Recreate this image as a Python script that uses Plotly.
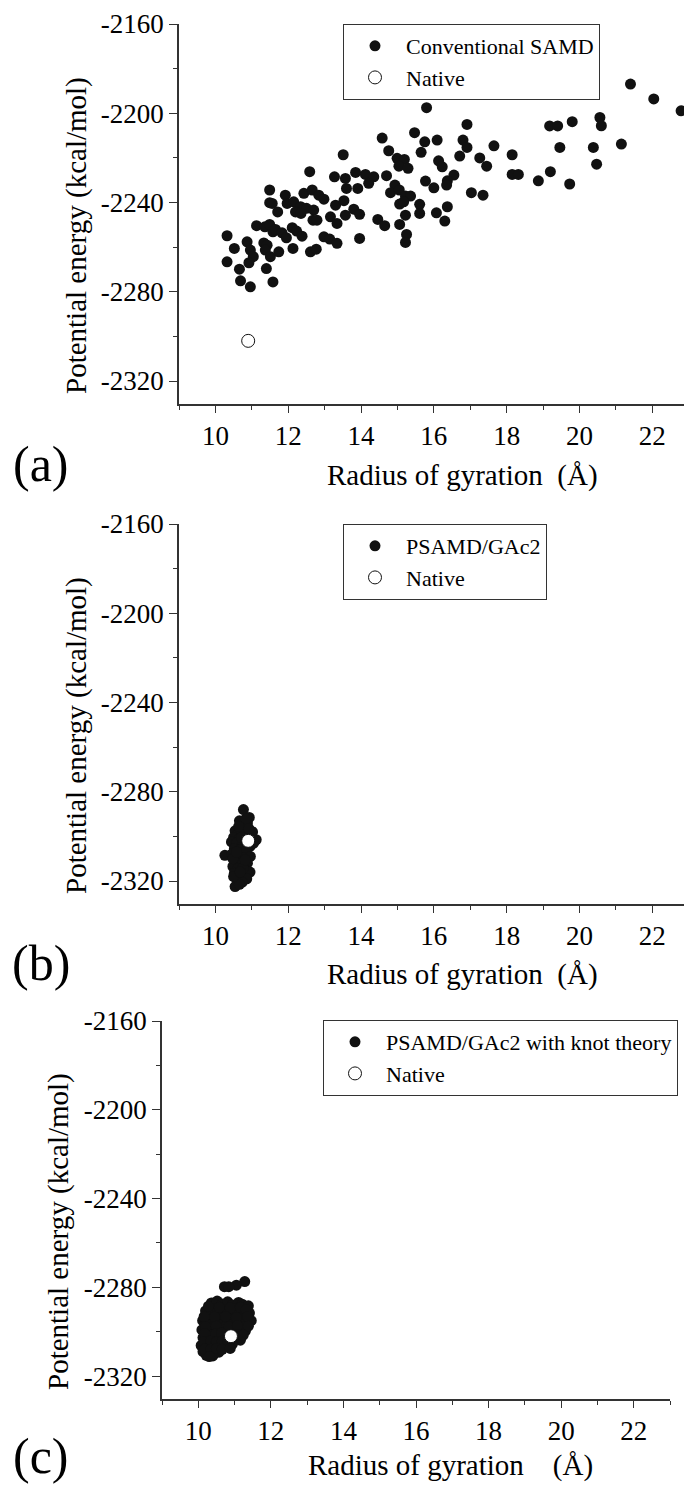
import plotly.graph_objects as go

# ---------------- data ----------------
# Panel (a): Conventional SAMD
a_rg = [21.40, 22.04, 22.79, 15.80, 16.91, 19.18, 19.40, 19.80, 20.56, 20.60,
        14.58, 15.47, 15.75, 16.09, 16.80, 16.91, 17.65, 19.46, 20.38, 21.15,
        14.76, 15.65, 16.71, 17.26, 18.15, 13.51, 14.99, 15.19, 15.04, 15.29,
        16.13, 16.23, 17.45, 20.47, 12.59, 13.27, 13.57, 13.85, 14.12, 14.35,
        14.70, 16.55, 16.37, 18.15, 18.32, 19.20, 18.87, 19.73, 15.77, 16.35,
        16.00, 13.60, 13.91, 14.21, 14.93, 14.81, 15.05, 15.22, 15.36, 17.03,
        17.35, 11.49, 11.92, 12.43, 12.66, 12.84, 12.98, 11.49, 11.56, 11.97,
        12.15, 12.34, 12.50, 12.70, 12.20, 12.35, 11.71, 13.30, 13.53, 13.80,
        13.96, 13.57, 13.16, 13.34, 12.68, 12.79, 15.06, 15.17, 15.61, 15.61,
        16.07, 16.37, 16.30, 15.22, 15.06, 14.46, 14.65, 15.25, 15.22, 13.96,
        11.13, 11.36, 11.49, 11.58, 11.65, 11.83, 11.95, 12.11, 12.23, 12.38,
        12.98, 13.14, 13.34, 10.32, 10.87, 10.52, 10.96, 11.04, 10.92, 10.32,
        10.66, 11.33, 11.42, 11.37, 11.51, 11.74, 12.13, 12.61, 12.77, 11.40,
        10.69, 10.96, 11.58]
a_pe = [-2186.9, -2193.6, -2198.9, -2197.5, -2205.0, -2205.7, -2205.7, -2203.8, -2201.9, -2205.6,
        -2211.1, -2208.7, -2212.8, -2212.0, -2212.0, -2215.3, -2214.6, -2215.3, -2215.3, -2213.8,
        -2216.8, -2217.5, -2219.2, -2220.0, -2218.6, -2218.6, -2220.2, -2220.7, -2223.7, -2224.7,
        -2221.3, -2224.0, -2223.7, -2222.8, -2226.2, -2228.5, -2229.2, -2226.5, -2227.4, -2228.5,
        -2228.0, -2227.7, -2230.3, -2227.4, -2227.4, -2226.2, -2230.3, -2231.7, -2230.4, -2232.2,
        -2233.4, -2233.7, -2233.7, -2231.4, -2232.2, -2235.6, -2234.4, -2237.1, -2237.1, -2235.6,
        -2236.7, -2234.4, -2236.7, -2235.9, -2234.4, -2236.7, -2238.5, -2240.1, -2240.4, -2240.4,
        -2239.7, -2241.9, -2242.6, -2243.4, -2244.2, -2244.9, -2244.2, -2241.2, -2239.2, -2243.0,
        -2245.3, -2245.7, -2246.4, -2249.4, -2247.9, -2247.9, -2240.7, -2239.7, -2240.8, -2244.9,
        -2244.6, -2241.9, -2248.3, -2245.7, -2249.8, -2247.6, -2250.4, -2254.3, -2257.9, -2256.1,
        -2250.4, -2250.9, -2249.8, -2253.1, -2252.1, -2253.6, -2255.8, -2251.3, -2252.8, -2255.1,
        -2255.4, -2256.4, -2258.3, -2254.9, -2257.6, -2260.6, -2261.3, -2264.3, -2267.0, -2266.6,
        -2269.9, -2258.1, -2259.1, -2261.3, -2264.3, -2262.1, -2260.6, -2262.1, -2260.9, -2269.6,
        -2275.1, -2277.8, -2275.6]

# Panel (b): PSAMD/GAc2
b_rg = [10.77, 10.93, 10.66, 10.88, 10.70, 10.54, 10.62, 10.80, 11.02, 10.50,
        10.66, 11.12, 10.44, 10.58, 10.75, 10.95, 11.05, 10.52, 10.68, 10.85,
        10.26, 10.45, 10.62, 10.78, 10.96, 10.55, 10.70, 10.88, 10.48, 10.62,
        10.80, 10.95, 10.52, 10.70, 10.86, 10.60, 10.74, 10.54, 10.66, 10.48,
        10.90, 10.72, 10.84, 10.58, 10.64, 10.92, 10.76, 10.50, 10.82, 10.68]
b_pe = [-2288.0, -2291.5, -2293.0, -2294.0, -2296.0, -2297.5, -2299.0, -2298.0, -2298.0, -2300.5,
        -2301.0, -2301.5, -2302.5, -2303.0, -2304.0, -2304.5, -2303.0, -2305.5, -2306.0, -2306.5,
        -2308.5, -2308.0, -2309.0, -2309.5, -2309.0, -2311.0, -2312.0, -2312.0, -2313.5, -2314.5,
        -2315.0, -2316.0, -2316.5, -2317.5, -2319.0, -2319.5, -2320.5, -2322.5, -2321.5, -2310.0,
        -2300.0, -2300.5, -2292.0, -2307.0, -2295.5, -2296.5, -2314.0, -2318.0, -2310.5, -2316.0]

# Panel (c): PSAMD/GAc2 with knot theory
c_rg = [11.28, 11.05, 10.72, 10.84, 10.36, 10.52, 10.66, 10.81, 10.94, 11.11,
        11.21, 11.38, 10.20, 10.34, 10.49, 10.64, 10.82, 10.97, 11.09, 11.26,
        11.41, 10.12, 10.29, 10.43, 10.57, 10.73, 10.87, 11.03, 11.17, 11.33,
        11.46, 10.10, 10.24, 10.41, 10.55, 10.71, 10.86, 11.01, 11.14, 11.30,
        10.13, 10.27, 10.44, 10.59, 10.74, 10.99, 11.16, 10.08, 10.23, 10.37,
        10.51, 10.66, 10.79, 10.94, 10.13, 10.29, 10.43, 10.57, 10.22, 10.40,
        10.18, 10.31, 10.47, 10.62, 10.77, 10.92, 11.06, 11.22, 10.35, 10.68,
        10.28, 10.58, 10.88, 11.16, 11.32, 10.16, 10.45, 10.75, 11.05, 11.36,
        10.20, 10.50, 10.84, 11.08, 11.38, 10.18, 10.48, 10.64, 11.08, 11.24,
        10.16, 10.34, 10.50, 10.66, 10.82, 10.18, 10.35, 10.50, 10.66, 10.88,
        10.30]
c_pe = [-2277.4, -2279.0, -2279.7, -2279.7, -2287.0, -2286.2, -2287.5, -2286.5, -2288.0, -2286.8,
        -2287.6, -2288.3, -2290.6, -2291.4, -2290.8, -2291.8, -2290.6, -2291.2, -2292.0, -2290.9,
        -2291.6, -2295.0, -2294.6, -2295.6, -2294.8, -2295.4, -2294.4, -2295.8, -2294.9, -2295.3,
        -2295.0, -2299.2, -2298.6, -2299.5, -2298.9, -2299.8, -2298.5, -2299.3, -2298.8, -2299.6,
        -2302.6, -2302.2, -2302.9, -2302.4, -2303.1, -2302.3, -2303.8, -2306.2, -2305.8, -2306.6,
        -2305.9, -2306.4, -2306.1, -2305.6, -2309.0, -2309.4, -2308.7, -2309.2, -2310.6, -2310.9,
        -2297.0, -2296.7, -2297.3, -2296.9, -2297.4, -2296.6, -2297.1, -2293.0, -2304.0, -2300.8,
        -2288.5, -2289.0, -2289.2, -2289.0, -2290.0, -2293.2, -2293.4, -2293.1, -2293.6, -2293.2,
        -2297.8, -2297.5, -2297.8, -2297.2, -2297.5, -2300.8, -2301.0, -2300.6, -2301.2, -2301.5,
        -2304.4, -2304.2, -2304.6, -2304.3, -2304.1, -2307.8, -2307.9, -2307.6, -2307.9, -2307.5,
        -2311.2]

native_rg = [10.9]
native_pe = [-2302.0]

series_names = ["Conventional SAMD", "PSAMD/GAc2", "PSAMD/GAc2 with knot theory"]
panel_labels = ["(a)", "(b)", "(c)"]
x_ticks = [10, 12, 14, 16, 18, 20, 22]
x_tick_text = ["10", "12", "14", "16", "18", "20", "22"]
y_ticks = [-2320, -2280, -2240, -2200, -2160]
y_tick_text = ["-2320", "-2280", "-2240", "-2200", "-2160"]

# ---------------- layout helpers ----------------
W, H = 684, 1491
FONT = "Liberation Serif, Times New Roman, serif"


def px(v):
    return v / W


def py(v):
    return 1 - v / H


# panel geometry in pixels: (x_left, x_right, y_top, y_bottom, xrange)
panels = [
    (179, 684, 24, 404, [9, 22.87]),
    (179, 684, 524, 904, [9, 22.87]),
    (162, 670, 1021, 1399, [9, 23]),
]
legend_pos = [(343, 24), (343, 524), (323, 1020)]
xtitle_pos = [(462, 475), (462, 975), (450, 1465)]
ytitle_pos = [(76, 236), (76, 736), (58, 1232)]
plabel_pos = [(41, 464), (41, 963), (41, 1456)]
xtitle_text = ["Radius of gyration\u00a0\u00a0(Å)", "Radius of gyration\u00a0\u00a0(Å)",
               "Radius of gyration\u00a0\u00a0\u00a0\u00a0(Å)"]

dots = [(a_rg, a_pe), (b_rg, b_pe), (c_rg, c_pe)]

fig = go.Figure()
layout = dict(
    width=W, height=H,
    margin=dict(l=0, r=0, t=0, b=0, autoexpand=False),
    paper_bgcolor="white", plot_bgcolor="white",
    font=dict(family=FONT, color="black"),
    showlegend=True,
    annotations=[],
)

for i in range(3):
    suffix = "" if i == 0 else str(i + 1)
    xa, ya = "x" + suffix, "y" + suffix
    leg = "legend" + suffix
    xs, ys = dots[i]
    fig.add_trace(go.Scatter(
        x=xs, y=ys, mode="markers", name=series_names[i],
        marker=dict(size=11, color="#111111"),
        xaxis=xa, yaxis=ya, legend=leg, cliponaxis=True))
    fig.add_trace(go.Scatter(
        x=native_rg, y=native_pe, mode="markers", name="Native",
        marker=dict(size=13, color="white", line=dict(color="#111111", width=1)),
        xaxis=xa, yaxis=ya, legend=leg, cliponaxis=True))

    xl, xr, yt, yb, xrange = panels[i]
    layout["xaxis" + suffix] = dict(
        domain=[px(xl), min(px(xr), 1.0)], range=xrange, anchor=ya,
        automargin=False,
        showline=True, linecolor="#333333", linewidth=1.5, mirror=False,
        showgrid=False, zeroline=False,
        tickmode="array", tickvals=x_ticks, ticktext=x_tick_text,
        ticks="outside", ticklen=7, tickwidth=1.3, tickcolor="#333333",
        tickfont=dict(family=FONT, size=27, color="black"),
        minor=dict(dtick=1, tick0=9, ticks="outside", ticklen=4, tickwidth=1.2,
                   tickcolor="#333333", showgrid=False),
    )
    layout["yaxis" + suffix] = dict(
        domain=[py(yb), py(yt)], range=[-2330.3, -2160], anchor=xa,
        automargin=False,
        showline=True, linecolor="#333333", linewidth=1.5, mirror=False,
        showgrid=False, zeroline=False,
        tickmode="array", tickvals=y_ticks, ticktext=y_tick_text,
        ticks="outside", ticklen=8, tickwidth=1.3, tickcolor="#333333",
        tickfont=dict(family=FONT, size=27, color="black"),
        minor=dict(dtick=20, tick0=-2340, ticks="outside", ticklen=4, tickwidth=1.2,
                   tickcolor="#333333", showgrid=False),
    )
    lx, ly = legend_pos[i]
    layout[leg] = dict(
        x=px(lx), y=py(ly), xanchor="left", yanchor="top",
        xref="paper", yref="paper",
        bgcolor="white", bordercolor="#333333", borderwidth=1,
        font=dict(family=FONT, size=22, color="black"),
        itemwidth=52, tracegroupgap=0,
    )
    tx, ty = xtitle_pos[i]
    layout["annotations"].append(dict(
        text=xtitle_text[i], x=px(tx), y=py(ty), xref="paper", yref="paper",
        xanchor="center", yanchor="middle", showarrow=False,
        font=dict(family=FONT, size=29, color="black")))
    vx, vy = ytitle_pos[i]
    layout["annotations"].append(dict(
        text="Potential energy (kcal/mol)", x=px(vx), y=py(vy), xref="paper", yref="paper",
        xanchor="center", yanchor="middle", showarrow=False, textangle=-90,
        font=dict(family=FONT, size=29, color="black")))
    bx, by = plabel_pos[i]
    layout["annotations"].append(dict(
        text=panel_labels[i], x=px(bx), y=py(by), xref="paper", yref="paper",
        xanchor="center", yanchor="middle", showarrow=False,
        font=dict(family=FONT, size=50, color="black")))

fig.update_layout(**layout)
fig.write_html(
    "out.html",
    config={"displayModeBar": False},
    post_script=("document.documentElement.style.margin='0';"
                 "document.body.style.margin='0';document.body.style.padding='0';"
                 "document.documentElement.style.overflow='hidden';"),
)
